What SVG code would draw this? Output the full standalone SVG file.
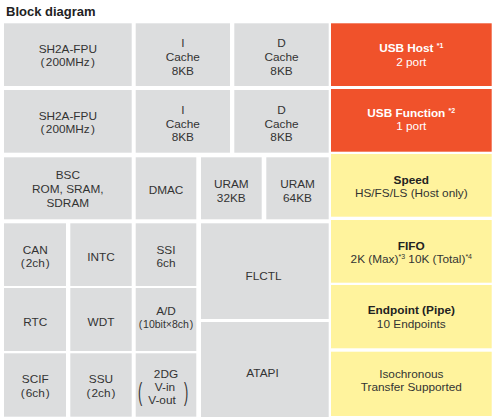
<svg xmlns="http://www.w3.org/2000/svg" width="493" height="419" viewBox="0 0 493 419">
<style>
.g{fill:#DCDDDE}
.o{fill:#F0522B}
.y{fill:#FFF39D}
.t{font-family:"Liberation Sans",Arial,sans-serif;font-size:11.8px;fill:#333;text-anchor:middle}
.b{font-weight:bold;fill:#222}
.w{fill:#fff}
.s{font-size:7px}
.sm{font-size:10.5px}
.p{font-family:"Liberation Sans",Arial,sans-serif;font-size:25.3px;fill:#333;text-anchor:middle}
.title{font-family:"Liberation Sans",Arial,sans-serif;font-size:13px;font-weight:bold;fill:#222}
</style>
<rect width="493" height="419" fill="#fff"/>
<text class="title" x="6" y="16">Block diagram</text>
<g id="cpu1"><rect class="g" x="4" y="23.3" width="127.7" height="62.7"/>
<text class="t" x="67.8" y="53.3">SH2A-FPU</text>
<text class="t" x="67.8" y="66"><tspan>(</tspan><tspan dx="1.3">200MHz</tspan><tspan dx="1.3">)</tspan></text></g>
<g id="icache1"><rect class="g" x="135.7" y="23.3" width="94.3" height="62.7"/>
<text class="t" x="182.8" y="47">I</text><text class="t" x="182.8" y="61">Cache</text><text class="t" x="182.8" y="74.5">8KB</text></g>
<g id="dcache1"><rect class="g" x="234.3" y="23.3" width="94.4" height="62.7"/>
<text class="t" x="281.5" y="47">D</text><text class="t" x="281.5" y="61">Cache</text><text class="t" x="281.5" y="74.5">8KB</text></g>
<g id="usbhost"><rect class="o" x="331" y="23.3" width="160.7" height="62.7"/>
<text class="t b w" x="411.3" y="51.7">USB Host <tspan class="s" dy="-4">*1</tspan></text>
<text class="t w" x="411.3" y="65.7">2 port</text></g>

<g id="cpu2"><rect class="g" x="4" y="90" width="127.7" height="62.7"/>
<text class="t" x="67.8" y="120">SH2A-FPU</text>
<text class="t" x="67.8" y="132.5"><tspan>(</tspan><tspan dx="1.3">200MHz</tspan><tspan dx="1.3">)</tspan></text></g>
<g id="icache2"><rect class="g" x="135.7" y="90" width="94.3" height="62.7"/>
<text class="t" x="182.8" y="113.5">I</text><text class="t" x="182.8" y="127.7">Cache</text><text class="t" x="182.8" y="140.7">8KB</text></g>
<g id="dcache2"><rect class="g" x="234.3" y="90" width="94.4" height="62.7"/>
<text class="t" x="281.5" y="113.5">D</text><text class="t" x="281.5" y="127.7">Cache</text><text class="t" x="281.5" y="140.7">8KB</text></g>
<g id="usbfunction"><rect class="o" x="331" y="89" width="160.7" height="62.7"/>
<text class="t b w" x="411.3" y="117.3">USB Function <tspan class="s" dy="-4">*2</tspan></text>
<text class="t w" x="411.3" y="130">1 port</text></g>

<g id="bsc"><rect class="g" x="4" y="157.3" width="127.7" height="62"/>
<text class="t" x="67.8" y="179">BSC</text><text class="t" x="67.8" y="192.7">ROM, SRAM,</text><text class="t" x="67.8" y="206.5">SDRAM</text></g>
<g id="dmac"><rect class="g" x="135.7" y="157.3" width="60.6" height="62"/>
<text class="t" x="166" y="193.7">DMAC</text></g>
<g id="uram32"><rect class="g" x="201" y="157.3" width="60.7" height="62"/>
<text class="t" x="231.3" y="188.3">URAM</text><text class="t" x="231.3" y="201.7">32KB</text></g>
<g id="uram64"><rect class="g" x="266.3" y="157.3" width="62.4" height="62"/>
<text class="t" x="297.5" y="188.3">URAM</text><text class="t" x="297.5" y="201.7">64KB</text></g>
<g id="speed"><rect class="y" x="331" y="154" width="160.7" height="62.7"/>
<text class="t b" x="411.3" y="183.7">Speed</text><text class="t" x="411.3" y="196.7">HS/FS/LS (Host only)</text></g>

<g id="can"><rect class="g" x="4" y="223.3" width="62" height="62.7"/>
<text class="t" x="35.3" y="253.7">CAN</text>
<text class="t" x="35.3" y="266.7"><tspan>(</tspan><tspan dx="1">2ch</tspan><tspan dx="1">)</tspan></text></g>
<g id="intc"><rect class="g" x="70.3" y="223.3" width="61.4" height="62.7"/>
<text class="t" x="101" y="261">INTC</text></g>
<g id="ssi"><rect class="g" x="135.7" y="223.3" width="60.6" height="62.7"/>
<text class="t" x="166" y="253.7">SSI</text><text class="t" x="166" y="266.7">6ch</text></g>
<g id="flctl"><rect class="g" x="201" y="223.3" width="127.7" height="95.7"/>
<text class="t" x="263.5" y="280">FLCTL</text></g>
<g id="fifo"><rect class="y" x="331" y="220" width="160.7" height="62.7"/>
<text class="t b" x="411.3" y="250">FIFO</text>
<text class="t" x="411.3" y="262.7">2K (Max)<tspan class="s" dy="-4">*3</tspan><tspan dy="4"> 10K (Total)</tspan><tspan class="s" dy="-4">*4</tspan></text></g>

<g id="rtc"><rect class="g" x="4" y="288" width="62" height="63"/>
<text class="t" x="35.3" y="325.7">RTC</text></g>
<g id="wdt"><rect class="g" x="70.3" y="288" width="61.4" height="63"/>
<text class="t" x="101" y="325.7">WDT</text></g>
<g id="ad"><rect class="g" x="135.7" y="288" width="60.6" height="63"/>
<text class="t" x="166" y="315">A/D</text>
<text class="t sm" x="166" y="328.3"><tspan>(</tspan><tspan dx="0.8">10bit×8ch</tspan><tspan dx="0.8">)</tspan></text></g>
<g id="endpoint"><rect class="y" x="331" y="285" width="160.7" height="63.3"/>
<text class="t b" x="411.3" y="313.5">Endpoint (Pipe)</text><text class="t" x="411.3" y="327.5">10 Endpoints</text></g>

<g id="scif"><rect class="g" x="4" y="353.3" width="62" height="63.4"/>
<text class="t" x="35.3" y="383.3">SCIF</text>
<text class="t" x="35.3" y="396.7"><tspan>(</tspan><tspan dx="1">6ch</tspan><tspan dx="1">)</tspan></text></g>
<g id="ssu"><rect class="g" x="70.3" y="353.3" width="61.4" height="63.4"/>
<text class="t" x="101" y="383.3">SSU</text>
<text class="t" x="101" y="396.7"><tspan>(</tspan><tspan dx="1">2ch</tspan><tspan dx="1">)</tspan></text></g>
<g id="twodg"><rect class="g" x="135.7" y="353.3" width="60.6" height="63.4"/>
<text class="t" x="166" y="377.7">2DG</text>
<text class="t" x="165" y="391">V-in</text>
<text class="t" x="162" y="404.3">V-out</text>
<text class="p" transform="scale(0.5,1)" x="280" y="401.4">(</text>
<text class="p" transform="scale(0.5,1)" x="372" y="401.4">)</text></g>
<g id="atapi"><rect class="g" x="201" y="322" width="127.7" height="95"/>
<text class="t" x="262.5" y="376.7">ATAPI</text></g>
<g id="iso"><rect class="y" x="331" y="351.7" width="160.7" height="64.3"/>
<text class="t" x="411.3" y="377.7">Isochronous</text><text class="t" x="411.3" y="391">Transfer Supported</text></g>
<g id="connectors"/>
</svg>
